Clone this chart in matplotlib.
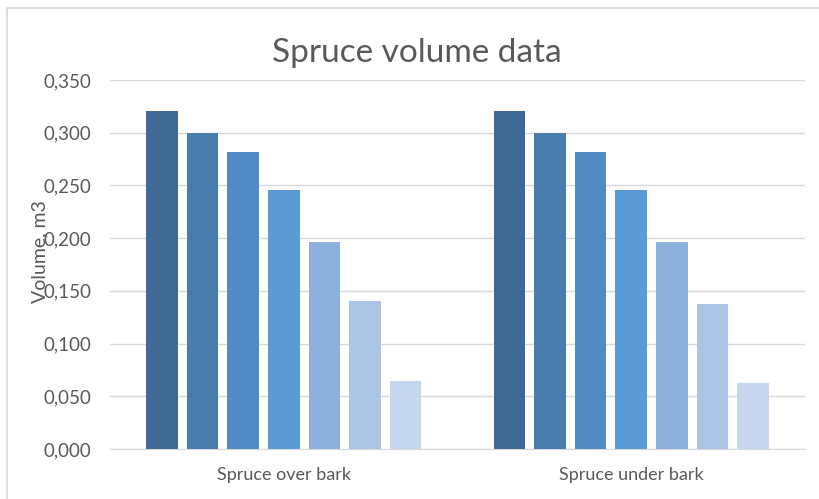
import numpy as np
import matplotlib
matplotlib.use("Agg")
import matplotlib.pyplot as plt
from matplotlib.patches import Rectangle
from matplotlib.ticker import FuncFormatter

# volume per stem class, m3
categories = ["Spruce over bark", "Spruce under bark"]
series = ["d1", "d2", "d3", "d4", "d5", "d6", "d7"]
values = [
    [0.321, 0.321],
    [0.300, 0.300],
    [0.2815, 0.2815],
    [0.246, 0.246],
    [0.196, 0.196],
    [0.1405, 0.1375],
    [0.0645, 0.0625],
]
colors = ["#3E6A94", "#4A7DAF", "#508CC4", "#5B9BD5", "#8CB0DC", "#ABC5E6", "#C6D6EC"]

plt.rcParams["font.family"] = ["Lato", "DejaVu Sans"]
text_col = "#595959"

fig = plt.figure(figsize=(8.19, 4.99), dpi=100)
ax = fig.add_axes([110 / 819, 1 - 449 / 499, 695 / 819, 369 / 499])

# outer chart border
fig.patches.append(Rectangle((7 / 819, -0.1), 1.2, 1 - 8 / 499 + 0.1,
                             transform=fig.transFigure, fill=False,
                             edgecolor="#D9D9D9", linewidth=1.2))

x = np.arange(len(categories))
pitch = 0.117
width = 0.0907
for i, (vals, c) in enumerate(zip(values, colors)):
    offs = (i - (len(series) - 1) / 2) * pitch
    ax.bar(x + offs, vals, width=width, color=c, zorder=3)

ax.set_xlim(-0.5, 1.5)
ax.set_ylim(0, 0.35)
ax.set_yticks(np.arange(0, 0.351, 0.05))
ax.yaxis.set_major_formatter(FuncFormatter(lambda v, p: f"{v:.3f}".replace(".", ",")))
ax.set_xticks(x)
ax.set_xticklabels(categories)
ax.grid(axis="y", color="#D9D9D9", linewidth=1, zorder=0)
for s in ["top", "right", "left"]:
    ax.spines[s].set_visible(False)
ax.spines["bottom"].set_color("#D9D9D9")
ax.tick_params(axis="both", length=0, colors=text_col)
ax.tick_params(axis="y", pad=13.5, labelsize=13.5)
ax.tick_params(axis="x", pad=13, labelsize=13)

# axis title sits over the tick labels, as in the sheet
ax.set_ylabel("Volume, m3", color=text_col, fontsize=14)
ax.yaxis.set_label_coords(-0.088, 0.535)

fig.text(417 / 819, 1 - 62 / 499, "Spruce volume data", ha="center", va="baseline",
         color=text_col, fontsize=24)

fig.savefig("out.png", dpi=100)
